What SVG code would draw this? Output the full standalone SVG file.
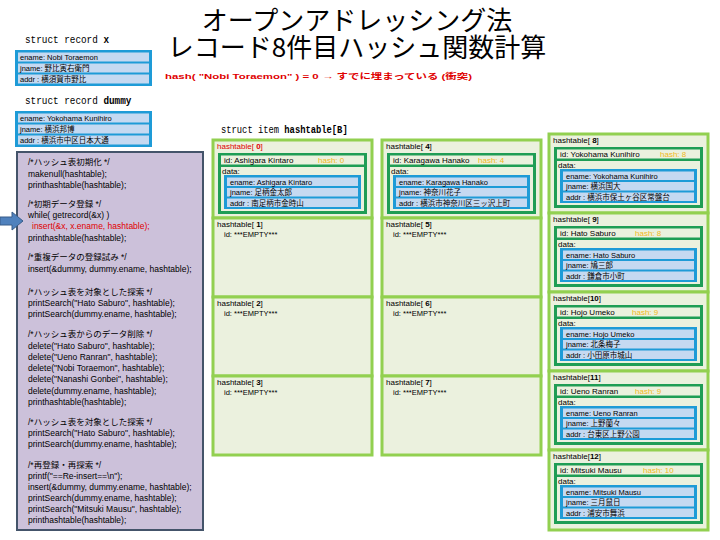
<svg xmlns="http://www.w3.org/2000/svg" width="720" height="540" viewBox="0 0 720 540">
<style>
.t{font-family:"Liberation Sans","Noto Sans CJK JP",sans-serif;font-size:8px;fill:#000}
.r{font-size:7.5px}
.code{font-family:"Liberation Sans","Noto Sans CJK JP",sans-serif;font-size:8.5px;fill:#000}
.mono{font-family:"Liberation Mono","Noto Sans CJK JP",monospace;font-size:11px;fill:#000}
.title{font-family:"Noto Sans CJK JP",sans-serif;font-size:26px;fill:#000}
.cell{fill:#ebf1de;stroke:#92d050;stroke-width:3}
.dg{fill:#1f9d55}
.lt{fill:#ebf1de}
.bl{fill:#1e9bd7}
.lb{fill:#c5d9f1}
.hash{fill:#f0b820}
.red{fill:#e00000}
.codebox{fill:#ccc1da;stroke:#44546a;stroke-width:2}
</style>
<rect width="720" height="540" fill="#fff"/>

<g id="title">
<text class="title" x="357" y="30" text-anchor="middle">オープンアドレッシング法</text>
<text class="title" x="357" y="57" text-anchor="middle">レコード8件目ハッシュ関数計算</text>
<text class="t red" x="165" y="79" font-size="11" font-weight="bold" textLength="307" lengthAdjust="spacingAndGlyphs">hash( "Nobi Toraemon" ) = 0 → すでに埋まっている (衝突)</text>
</g>

<g id="record-x">
<text class="mono" transform="translate(25,43) scale(0.85,1)">struct record <tspan font-weight="bold">x</tspan></text>
<g transform="translate(15,50)">
<rect class="bl" width="137" height="36"/>
<rect class="lb" x="3" y="2.5" width="131" height="9"/>
<rect class="lb" x="3" y="13.5" width="131" height="9"/>
<rect class="lb" x="3" y="24.5" width="131" height="9"/>
<text class="t r" x="5" y="10">ename: Nobi Toraemon</text>
<text class="t r" x="5" y="21">jname: 野比寅右衛門</text>
<text class="t r" x="5" y="32">addr : 横須賀市野比</text>
</g>
</g>

<g id="record-dummy">
<text class="mono" transform="translate(25,104) scale(0.85,1)">struct record <tspan font-weight="bold">dummy</tspan></text>
<g transform="translate(15,111)">
<rect class="bl" width="137" height="36"/>
<rect class="lb" x="3" y="2.5" width="131" height="9"/>
<rect class="lb" x="3" y="13.5" width="131" height="9"/>
<rect class="lb" x="3" y="24.5" width="131" height="9"/>
<text class="t r" x="5" y="10">ename: Yokohama Kunihiro</text>
<text class="t r" x="5" y="21">jname: 横浜邦博</text>
<text class="t r" x="5" y="32">addr : 横浜市中区日本大通</text>
</g>
</g>

<g id="code">
<rect class="codebox" x="17" y="152" width="186" height="378"/>
<text class="code" x="28" y="165">/*ハッシュ表初期化 */</text>
<text class="code" x="28" y="177">makenull(hashtable);</text>
<text class="code" x="28" y="188">printhashtable(hashtable);</text>
<text class="code" x="28" y="207">/*初期データ登録 */</text>
<text class="code" x="28" y="218">while( getrecord(&amp;x) )</text>
<text class="code red" x="32" y="229">insert(&amp;x, x.ename, hashtable);</text>
<text class="code" x="28" y="241">printhashtable(hashtable);</text>
<text class="code" x="28" y="260">/*重複データの登録試み */</text>
<text class="code" x="28" y="272">insert(&amp;dummy, dummy.ename, hashtable);</text>
<text class="code" x="28" y="295">/*ハッシュ表を対象とした探索 */</text>
<text class="code" x="28" y="306">printSearch("Hato Saburo", hashtable);</text>
<text class="code" x="28" y="317">printSearch(dummy.ename, hashtable);</text>
<text class="code" x="28" y="337">/*ハッシュ表からのデータ削除 */</text>
<text class="code" x="28" y="349">delete("Hato Saburo", hashtable);</text>
<text class="code" x="28" y="360">delete("Ueno Ranran", hashtable);</text>
<text class="code" x="28" y="371">delete("Nobi Toraemon", hashtable);</text>
<text class="code" x="28" y="382">delete("Nanashi Gonbei", hashtable);</text>
<text class="code" x="28" y="394">delete(dummy.ename, hashtable);</text>
<text class="code" x="28" y="405">printhashtable(hashtable);</text>
<text class="code" x="28" y="425">/*ハッシュ表を対象とした探索 */</text>
<text class="code" x="28" y="436">printSearch("Hato Saburo", hashtable);</text>
<text class="code" x="28" y="447">printSearch(dummy.ename, hashtable);</text>
<text class="code" x="28" y="468">/*再登録・再探索 */</text>
<text class="code" x="28" y="479">printf("==Re-insert==\n");</text>
<text class="code" x="28" y="490">insert(&amp;dummy, dummy.ename, hashtable);</text>
<text class="code" x="28" y="501">printSearch(dummy.ename, hashtable);</text>
<text class="code" x="28" y="512">printSearch("Mitsuki Mausu", hashtable);</text>
<text class="code" x="28" y="523">printhashtable(hashtable);</text>
</g>

<g id="table-label">
<text class="mono" transform="translate(221,133) scale(0.8,1)">struct item <tspan font-weight="bold">hashtable[B]</tspan></text>
</g>

<!-- column 1 -->
<g id="cell0" transform="translate(213,140)">
<rect class="cell" width="159" height="78"/>
<text class="t red" x="4" y="9">hashtable[ <tspan font-weight="bold">0</tspan>]</text>
<rect class="dg" x="5" y="13" width="149" height="61"/>
<rect class="lt" x="8" y="15.5" width="143" height="9"/>
<rect class="lt" x="8" y="27" width="143" height="44"/>
<text class="t" x="11" y="23">id: Ashigara Kintaro</text>
<text class="t hash" x="105" y="23">hash: 0</text>
<text class="t" x="9" y="33.5">data:</text>
<rect class="bl" x="11" y="35" width="137" height="34"/>
<rect class="lb" x="14" y="37.5" width="131" height="8.5"/>
<rect class="lb" x="14" y="48" width="131" height="8.5"/>
<rect class="lb" x="14" y="58.5" width="131" height="8.5"/>
<text class="t r" x="17" y="44.5">ename: Ashigara Kintaro</text>
<text class="t r" x="17" y="55">jname: 足柄金太郎</text>
<text class="t r" x="17" y="65.5">addr : 南足柄市金時山</text>
</g>
<g id="cell1" transform="translate(213,218)">
<rect class="cell" width="159" height="79"/>
<text class="t" x="4" y="9">hashtable[ <tspan font-weight="bold">1</tspan>]</text>
<text class="t r" x="11" y="19">id: ***EMPTY***</text>
</g>
<g id="cell2" transform="translate(213,297)">
<rect class="cell" width="159" height="79"/>
<text class="t" x="4" y="9">hashtable[ <tspan font-weight="bold">2</tspan>]</text>
<text class="t r" x="11" y="19">id: ***EMPTY***</text>
</g>
<g id="cell3" transform="translate(213,376)">
<rect class="cell" width="159" height="79"/>
<text class="t" x="4" y="9">hashtable[ <tspan font-weight="bold">3</tspan>]</text>
<text class="t r" x="11" y="19">id: ***EMPTY***</text>
</g>

<!-- column 2 -->
<g id="cell4" transform="translate(382,140)">
<rect class="cell" width="159" height="78"/>
<text class="t" x="4" y="9">hashtable[ <tspan font-weight="bold">4</tspan>]</text>
<rect class="dg" x="5" y="13" width="149" height="61"/>
<rect class="lt" x="8" y="15.5" width="143" height="9"/>
<rect class="lt" x="8" y="27" width="143" height="44"/>
<text class="t" x="11" y="23">id: Karagawa Hanako</text>
<text class="t hash" x="96" y="23">hash: 4</text>
<text class="t" x="9" y="33.5">data:</text>
<rect class="bl" x="11" y="35" width="137" height="34"/>
<rect class="lb" x="14" y="37.5" width="131" height="8.5"/>
<rect class="lb" x="14" y="48" width="131" height="8.5"/>
<rect class="lb" x="14" y="58.5" width="131" height="8.5"/>
<text class="t r" x="17" y="44.5">ename: Karagawa Hanako</text>
<text class="t r" x="17" y="55">jname: 神奈川花子</text>
<text class="t r" x="17" y="65.5">addr : 横浜市神奈川区三ッ沢上町</text>
</g>
<g id="cell5" transform="translate(382,218)">
<rect class="cell" width="159" height="79"/>
<text class="t" x="4" y="9">hashtable[ <tspan font-weight="bold">5</tspan>]</text>
<text class="t r" x="11" y="19">id: ***EMPTY***</text>
</g>
<g id="cell6" transform="translate(382,297)">
<rect class="cell" width="159" height="79"/>
<text class="t" x="4" y="9">hashtable[ <tspan font-weight="bold">6</tspan>]</text>
<text class="t r" x="11" y="19">id: ***EMPTY***</text>
</g>
<g id="cell7" transform="translate(382,376)">
<rect class="cell" width="159" height="79"/>
<text class="t" x="4" y="9">hashtable[ <tspan font-weight="bold">7</tspan>]</text>
<text class="t r" x="11" y="19">id: ***EMPTY***</text>
</g>

<!-- column 3 -->
<g id="cell8" transform="translate(549,134)">
<rect class="cell" width="159" height="79"/>
<text class="t" x="4" y="9">hashtable[ <tspan font-weight="bold">8</tspan>]</text>
<rect class="dg" x="5" y="13" width="149" height="61"/>
<rect class="lt" x="8" y="15.5" width="143" height="9"/>
<rect class="lt" x="8" y="27" width="143" height="44"/>
<text class="t" x="11" y="23">id: Yokohama Kunihiro</text>
<text class="t hash" x="111" y="23">hash: 8</text>
<text class="t" x="9" y="33.5">data:</text>
<rect class="bl" x="11" y="35" width="137" height="34"/>
<rect class="lb" x="14" y="37.5" width="131" height="8.5"/>
<rect class="lb" x="14" y="48" width="131" height="8.5"/>
<rect class="lb" x="14" y="58.5" width="131" height="8.5"/>
<text class="t r" x="17" y="44.5">ename: Yokohama Kunihiro</text>
<text class="t r" x="17" y="55">jname: 横浜国大</text>
<text class="t r" x="17" y="65.5">addr : 横浜市保土ヶ谷区常盤台</text>
</g>
<g id="cell9" transform="translate(549,213)">
<rect class="cell" width="159" height="79"/>
<text class="t" x="4" y="9">hashtable[ <tspan font-weight="bold">9</tspan>]</text>
<rect class="dg" x="5" y="13" width="149" height="61"/>
<rect class="lt" x="8" y="15.5" width="143" height="9"/>
<rect class="lt" x="8" y="27" width="143" height="44"/>
<text class="t" x="11" y="23">id: Hato Saburo</text>
<text class="t hash" x="86" y="23">hash: 8</text>
<text class="t" x="9" y="33.5">data:</text>
<rect class="bl" x="11" y="35" width="137" height="34"/>
<rect class="lb" x="14" y="37.5" width="131" height="8.5"/>
<rect class="lb" x="14" y="48" width="131" height="8.5"/>
<rect class="lb" x="14" y="58.5" width="131" height="8.5"/>
<text class="t r" x="17" y="44.5">ename: Hato Saburo</text>
<text class="t r" x="17" y="55">jname: 鳩三郎</text>
<text class="t r" x="17" y="65.5">addr : 鎌倉市小町</text>
</g>
<g id="cell10" transform="translate(549,292)">
<rect class="cell" width="159" height="79"/>
<text class="t" x="4" y="9">hashtable[<tspan font-weight="bold">10</tspan>]</text>
<rect class="dg" x="5" y="13" width="149" height="61"/>
<rect class="lt" x="8" y="15.5" width="143" height="9"/>
<rect class="lt" x="8" y="27" width="143" height="44"/>
<text class="t" x="11" y="23">id: Hojo Umeko</text>
<text class="t hash" x="83" y="23">hash: 9</text>
<text class="t" x="9" y="33.5">data:</text>
<rect class="bl" x="11" y="35" width="137" height="34"/>
<rect class="lb" x="14" y="37.5" width="131" height="8.5"/>
<rect class="lb" x="14" y="48" width="131" height="8.5"/>
<rect class="lb" x="14" y="58.5" width="131" height="8.5"/>
<text class="t r" x="17" y="44.5">ename: Hojo Umeko</text>
<text class="t r" x="17" y="55">jname: 北条梅子</text>
<text class="t r" x="17" y="65.5">addr : 小田原市城山</text>
</g>
<g id="cell11" transform="translate(549,371)">
<rect class="cell" width="159" height="79"/>
<text class="t" x="4" y="9">hashtable[<tspan font-weight="bold">11</tspan>]</text>
<rect class="dg" x="5" y="13" width="149" height="61"/>
<rect class="lt" x="8" y="15.5" width="143" height="9"/>
<rect class="lt" x="8" y="27" width="143" height="44"/>
<text class="t" x="11" y="23">id: Ueno Ranran</text>
<text class="t hash" x="86" y="23">hash: 9</text>
<text class="t" x="9" y="33.5">data:</text>
<rect class="bl" x="11" y="35" width="137" height="34"/>
<rect class="lb" x="14" y="37.5" width="131" height="8.5"/>
<rect class="lb" x="14" y="48" width="131" height="8.5"/>
<rect class="lb" x="14" y="58.5" width="131" height="8.5"/>
<text class="t r" x="17" y="44.5">ename: Ueno Ranran</text>
<text class="t r" x="17" y="55">jname: 上野蘭々</text>
<text class="t r" x="17" y="65.5">addr : 台東区上野公園</text>
</g>
<g id="cell12" transform="translate(549,450)">
<rect class="cell" width="159" height="80"/>
<text class="t" x="4" y="9">hashtable[<tspan font-weight="bold">12</tspan>]</text>
<rect class="dg" x="5" y="13" width="149" height="61"/>
<rect class="lt" x="8" y="15.5" width="143" height="9"/>
<rect class="lt" x="8" y="27" width="143" height="44"/>
<text class="t" x="11" y="23">id: Mitsuki Mausu</text>
<text class="t hash" x="94" y="23">hash: 10</text>
<text class="t" x="9" y="33.5">data:</text>
<rect class="bl" x="11" y="35" width="137" height="34"/>
<rect class="lb" x="14" y="37.5" width="131" height="8.5"/>
<rect class="lb" x="14" y="48" width="131" height="8.5"/>
<rect class="lb" x="14" y="58.5" width="131" height="8.5"/>
<text class="t r" x="17" y="44.5">ename: Mitsuki Mausu</text>
<text class="t r" x="17" y="55">jname: 三月鼠日</text>
<text class="t r" x="17" y="65.5">addr : 浦安市舞浜</text>
</g>

<g id="connectors">
<polygon points="0,217 12,217 12,212 23,221 12,230 12,225 0,225" fill="#4f81bd" stroke="#385d8a" stroke-width="1"/>
</g>
</svg>
